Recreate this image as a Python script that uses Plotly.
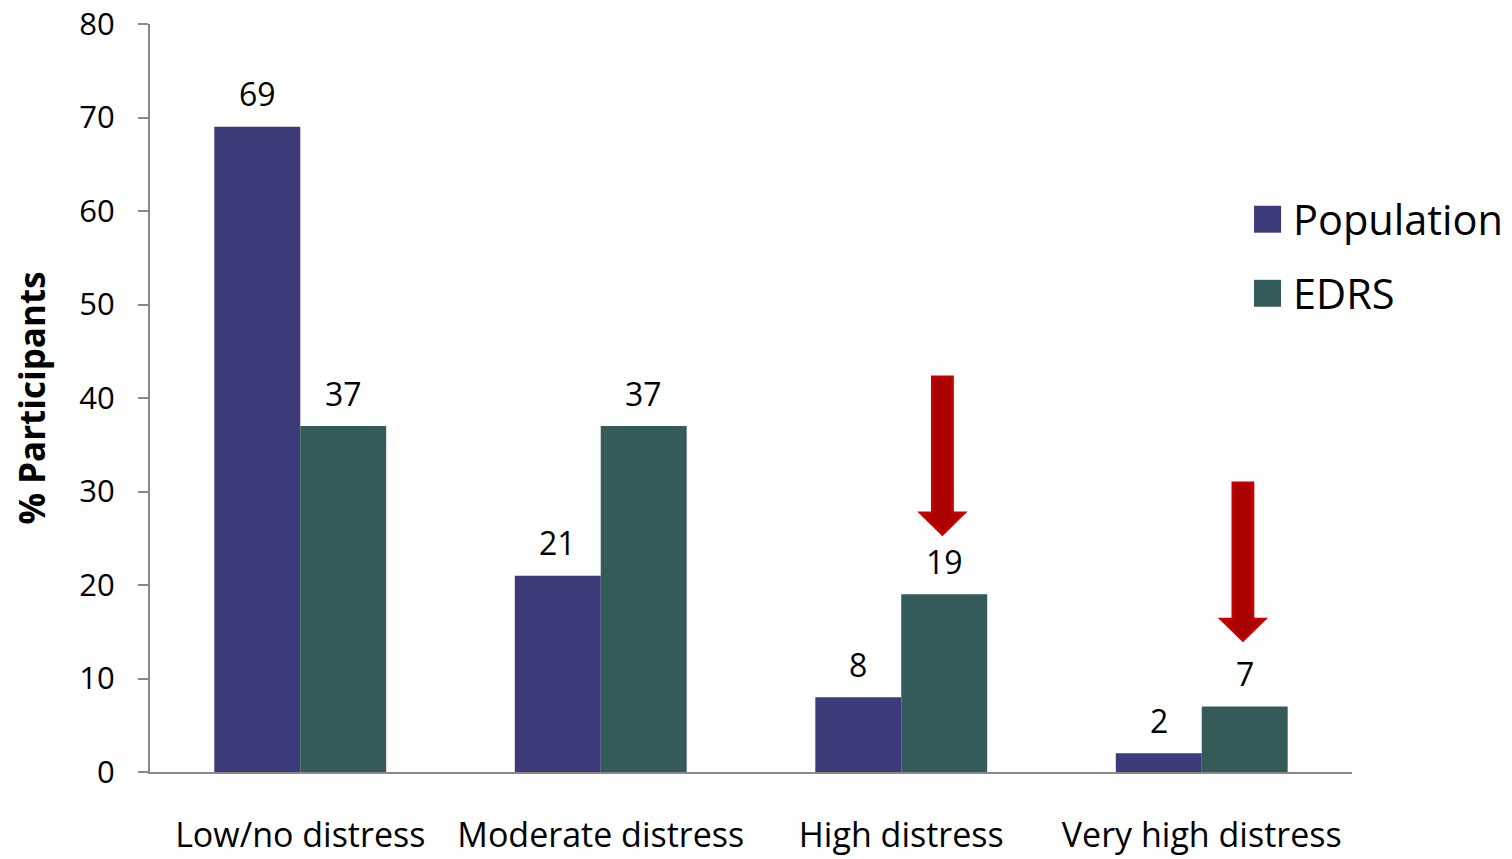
import plotly.graph_objects as go

categories = ["Low/no distress", "Moderate distress", "High distress", "Very high distress"]
population = [69, 21, 8, 2]
edrs = [37, 37, 19, 7]
y_ticks = [0, 10, 20, 30, 40, 50, 60, 70, 80]
series_names = ["Population", "EDRS"]

# Down-pointing callout arrows above the EDRS bars: (category index, top, tip)
arrow_cats = [2, 3]
arrow_tops = [42.25, 30.9]
arrow_tips = [25.45, 14.1]

FONT = "Open Sans"
POP_COLOR = "#3C3A78"
EDRS_COLOR = "#355A5A"
AXIS_COLOR = "#898989"
COLORS = [POP_COLOR, EDRS_COLOR]

xs = list(range(len(categories)))
BAR_W = 0.286          # width of one bar in category units
OFFSETS = [-BAR_W / 2, BAR_W / 2]

fig = go.Figure()
for name, vals, color in zip(series_names, [population, edrs], COLORS):
    fig.add_trace(go.Bar(
        x=xs, y=vals, name=name,
        marker=dict(color=color, line=dict(width=0)),
        showlegend=False,
    ))

# Value labels sitting above each bar
annotations = []
for vals, off in zip([population, edrs], OFFSETS):
    for c, v in zip(xs, vals):
        annotations.append(dict(
            x=c + off, y=v, xref="x", yref="y", text=str(v), showarrow=False,
            yanchor="middle", yshift=33,
            font=dict(size=32, family=FONT, color="black"),
        ))

# Legend drawn as squares + labels at the right of the plot
shapes = []
legend_rows = [(0.739, "Population", POP_COLOR), (0.640, "EDRS", EDRS_COLOR)]
for yc, label, color in legend_rows:
    shapes.append(dict(type="rect", xref="paper", yref="paper",
                       x0=0.9185, x1=0.941, y0=yc - 0.018, y1=yc + 0.018,
                       fillcolor=color, line=dict(width=0)))
    annotations.append(dict(x=0.949, y=yc, xref="paper", yref="paper",
                            text=label, showarrow=False, xanchor="left",
                            yanchor="middle",
                            font=dict(size=41.5, family=FONT, color="black")))

# Block arrows
shaft_half = 0.033
head_half = 0.0716
head_h = 2.25
for c, top, tip in zip(arrow_cats, arrow_tops, arrow_tips):
    cx = c + OFFSETS[1] - 0.006
    neck = tip + head_h
    path = (f"M {cx - shaft_half} {top} L {cx + shaft_half} {top} "
            f"L {cx + shaft_half} {neck} L {cx + head_half} {neck} "
            f"L {cx} {tip} L {cx - head_half} {neck} L {cx - shaft_half} {neck} Z")
    shapes.append(dict(type="path", xref="x", yref="y", path=path,
                       fillcolor="#AA0000", line=dict(color="#C40000", width=3)))

fig.update_layout(
    width=1512, height=859,
    margin=dict(l=150, r=160, t=24, b=87),
    paper_bgcolor="white", plot_bgcolor="white",
    barmode="group", bargap=1 - 2 * BAR_W, bargroupgap=0,
    font=dict(family=FONT, color="black", size=32),
    shapes=shapes, annotations=annotations,
    showlegend=False,
    xaxis=dict(
        tickmode="array", tickvals=xs, ticktext=categories,
        range=[-0.5, len(categories) - 0.5],
        showline=True, linecolor=AXIS_COLOR, linewidth=2,
        ticks="", showgrid=False, zeroline=False,
        tickfont=dict(size=34, family=FONT), ticklabelstandoff=32,
        automargin=False,
    ),
    yaxis=dict(
        range=[0, 80], tickvals=y_ticks,
        showline=True, linecolor=AXIS_COLOR, linewidth=2,
        ticks="outside", ticklen=10, tickcolor=AXIS_COLOR, tickwidth=2,
        showgrid=False, zeroline=False,
        tickfont=dict(size=31, family=FONT), ticklabelstandoff=17,
        title=dict(text="<b>% Participants</b>", font=dict(size=35, family=FONT), standoff=23),
        automargin=False,
    ),
)

fig.write_html("out.html")
